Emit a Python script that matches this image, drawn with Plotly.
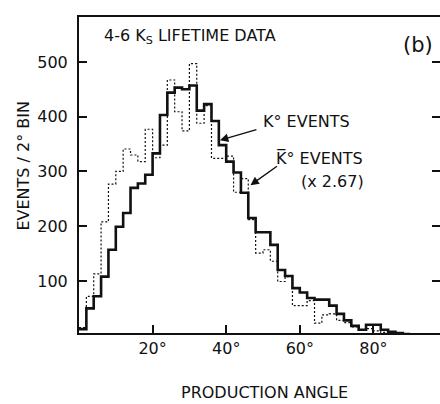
import plotly.graph_objects as go

# Production-angle histogram, 2 degree bins from 0 to 90 degrees
bin_width = 2
bin_edges = list(range(0, 92, bin_width))

# K0 events per 2 degree bin
k0_events = [12, 50, 72, 108, 157, 199, 224, 270, 278, 294,
             333, 403, 444, 453, 450, 457, 411, 423, 392, 348,
             318, 298, 261, 215, 189, 189, 166, 120, 109, 87,
             79, 69, 66, 66, 55, 40, 28, 18, 11, 20,
             20, 11, 7, 5, 3]

# anti-K0 events per 2 degree bin, scaled by 2.67
k0bar_events = [15, 72, 113, 208, 277, 300, 341, 330, 318, 377,
                325, 348, 467, 409, 374, 497, 388, 420, 324, 324,
                328, 262, 287, 212, 151, 157, 136, 99, 108, 55,
                55, 64, 23, 38, 40, 28, 24, 16, 10, 13,
                9, 6, 4, 3, 2]

y_ticks = [100, 200, 300, 400, 500]
x_ticks = [20, 40, 60, 80]
x_tick_text = ["20°", "40°", "60°", "80°"]

FONT = "DejaVu Sans"
INK = "#111111"


def step_y(values):
    # repeat the last value so the final bin gets its full width with shape "hv"
    return list(values) + [values[-1]]


fig = go.Figure()

fig.add_trace(go.Scatter(
    x=bin_edges, y=step_y(k0bar_events), mode="lines",
    line=dict(shape="hv", color=INK, width=1.2, dash="2px,2px"),
    hoverinfo="skip", showlegend=False,
))
fig.add_trace(go.Scatter(
    x=bin_edges, y=step_y(k0_events), mode="lines",
    line=dict(shape="hv", color=INK, width=2.6),
    hoverinfo="skip", showlegend=False,
))
# carrier for the right-hand tick marks
fig.add_trace(go.Scatter(
    x=[None], y=[None], yaxis="y2", mode="lines",
    hoverinfo="skip", showlegend=False,
))

y_range = [5, 582]
x_range = [0, 98.1]

fig.update_layout(
    width=440, height=404,
    margin=dict(l=79, r=0, t=17, b=71),
    paper_bgcolor="white", plot_bgcolor="white",
    font=dict(family=FONT, color=INK, size=16),
    xaxis=dict(
        range=x_range, showgrid=False, zeroline=False,
        showline=True, linecolor=INK, linewidth=2, mirror=True,
        ticks="inside", ticklen=8, tickwidth=1.5, tickcolor=INK,
        tickvals=x_ticks, ticktext=x_tick_text,
        tickfont=dict(size=16, family=FONT, color=INK),
        ticklabelstandoff=0,
    ),
    yaxis=dict(
        range=y_range, showgrid=False, zeroline=False,
        showline=True, linecolor=INK, linewidth=2,
        ticks="inside", ticklen=8, tickwidth=1.5, tickcolor=INK,
        tickvals=y_ticks,
        tickfont=dict(size=16, family=FONT, color=INK),
        ticklabelstandoff=6,
    ),
    yaxis2=dict(
        range=y_range, overlaying="y", side="right", showgrid=False,
        zeroline=False, showline=False, showticklabels=False,
        ticks="inside", ticklen=8, tickwidth=1.5, tickcolor=INK,
        tickvals=y_ticks,
    ),
)

annotations = [
    dict(text="4-6 K<sub>S</sub> LIFETIME DATA", x=0.064, y=0.937,
         xanchor="left", yanchor="middle", font=dict(size=16)),
    dict(text="(b)", x=0.938, y=0.911, xanchor="center", yanchor="middle",
         font=dict(size=21)),
    dict(text="K° EVENTS", x=0.505, y=0.668, xanchor="left",
         yanchor="middle", font=dict(size=16)),
    dict(text="K\u0305° EVENTS", x=0.541, y=0.552, xanchor="left",
         yanchor="middle", font=dict(size=16)),
    dict(text="(x 2.67)", x=0.61, y=0.481, xanchor="left",
         yanchor="middle", font=dict(size=16)),
    dict(text="EVENTS / 2° BIN", x=-0.155, y=0.53, textangle=-90,
         xanchor="center", yanchor="middle", font=dict(size=16)),
    dict(text="PRODUCTION ANGLE", x=0.515, y=-0.187, xanchor="center",
         yanchor="middle", font=dict(size=16)),
]
for a in annotations:
    a.update(xref="paper", yref="paper", showarrow=False)
    fig.add_annotation(**a)

# pointer arrows from the labels to the two histograms
fig.add_annotation(x=38.3, y=357, xref="x", yref="y", text="",
                   showarrow=True, ax=38, ay=-11, arrowhead=2,
                   arrowsize=1.2, arrowwidth=1.4, arrowcolor=INK)
fig.add_annotation(x=46.6, y=275, xref="x", yref="y", text="",
                   showarrow=True, ax=28, ay=-20, arrowhead=2,
                   arrowsize=1.2, arrowwidth=1.4, arrowcolor=INK)

fig.write_html("out.html")
